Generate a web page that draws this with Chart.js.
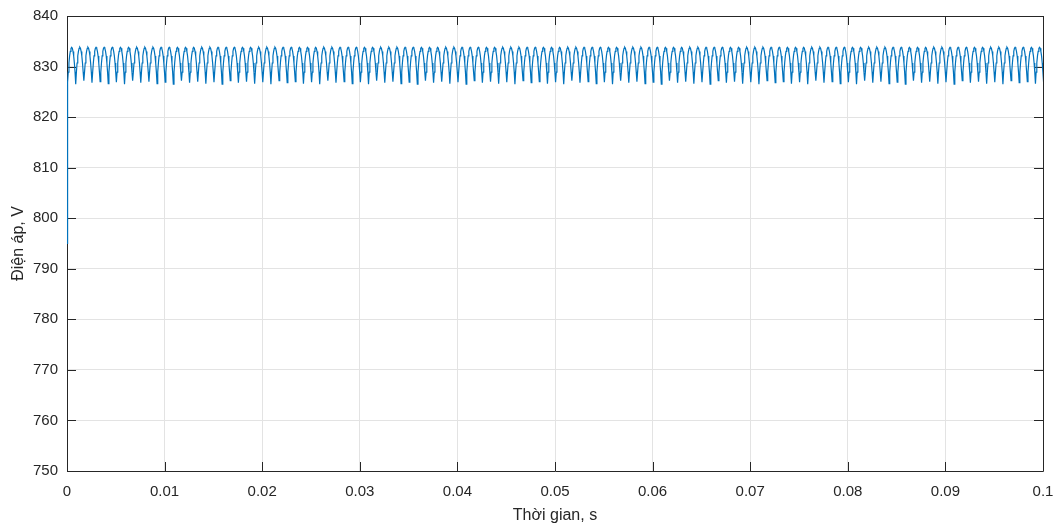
<!DOCTYPE html>
<html>
<head>
<meta charset="utf-8">
<title>Điện áp</title>
<script src="https://cdn.jsdelivr.net/npm/chart.js@4.4.0/dist/chart.umd.min.js"></script>
<style>
  body { margin: 0; background: #ffffff; }
  #wrap { width: 1059px; height: 529px; }
</style>
</head>
<body>
<div id="wrap"><canvas id="chart1" width="1059" height="529"></canvas></div>
<script>
// Tick labels
const xTicks = [0, 0.01, 0.02, 0.03, 0.04, 0.05, 0.06, 0.07, 0.08, 0.09, 0.1];
const yTicks = [750, 760, 770, 780, 790, 800, 810, 820, 830, 840];

// Start of the trace (vertical rise at t = 0)
const startTime = [0];
const startVolt = [795];

// One ripple period: 12 per 0.01 s
const rippleStart = 0.00006;
const ripplePeriod = 0.01 / 12;
const rippleCount = 121;
// voltage samples over one period (cusp first, then the arch)
const rippleShape = [null, 828.9, 830.7, 832.1, 833.0, 833.6, 833.8, 833.6, 833.0, 832.1, 830.7, 828.9];
// cusp depth changes a little from one period to the next
const troughVolt = [826.9, 826.5, 827.2, 826.8, 827.0, 826.6];

// build the point list
const puntos = [];
startTime.forEach((t, i) => puntos.push({ x: t, y: startVolt[i] }));
for (let k = 0; k < rippleCount; k++) {
  rippleShape.forEach((v, j) => {
    const t = rippleStart + (k + j / rippleShape.length) * ripplePeriod;
    puntos.push({ x: t, y: v === null ? troughVolt[k % troughVolt.length] : v });
  });
}

const textColor = '#262626';
const gridColor = '#e3e3e3';

// axes box and inward ticks, like the original plot (drawn under the trace)
const boxPlugin = {
  id: 'boxPlugin',
  beforeDatasetsDraw(chart) {
    const { ctx, chartArea: a, scales } = chart;
    const len = 9;
    ctx.save();
    ctx.strokeStyle = textColor;
    ctx.lineWidth = 1;
    ctx.beginPath();
    ctx.rect(Math.round(a.left) + 0.5, Math.round(a.top) + 0.5, Math.round(a.right - a.left), Math.round(a.bottom - a.top));
    xTicks.forEach(v => {
      const px = Math.round(scales.x.getPixelForValue(v)) + 0.5;
      ctx.moveTo(px, a.bottom); ctx.lineTo(px, a.bottom - len);
      ctx.moveTo(px, a.top); ctx.lineTo(px, a.top + len);
    });
    yTicks.forEach(v => {
      const py = Math.round(scales.y.getPixelForValue(v)) + 0.5;
      ctx.moveTo(a.left, py); ctx.lineTo(a.left + len, py);
      ctx.moveTo(a.right, py); ctx.lineTo(a.right - len, py);
    });
    ctx.stroke();
    ctx.restore();
  }
};

const ctx1 = document.getElementById('chart1').getContext('2d');
new Chart(ctx1, {
  type: 'line',
  data: {
    datasets: [{
      label: 'Điện áp',
      data: puntos,
      borderColor: '#0072BD',
      borderWidth: 1.2,
      pointRadius: 0,
      tension: 0,
      fill: false,
      clip: { left: 1, top: 0, right: 0, bottom: 0 }
    }]
  },
  options: {
    responsive: false,
    animation: false,
    layout: { padding: { left: 0, right: 16, top: 16, bottom: 0 } },
    plugins: {
      legend: { display: false },
      tooltip: { enabled: false }
    },
    font: { family: 'Liberation Sans, Arial, sans-serif' },
    scales: {
      x: {
        type: 'linear',
        min: 0,
        max: 0.1,
        afterBuildTicks: s => { s.ticks = xTicks.map(v => ({ value: v })); },
        afterFit: s => { s.height = 58; s.paddingLeft = 0; s.paddingRight = 0; },
        grid: { color: gridColor, drawTicks: false },
        border: { display: false },
        ticks: {
          color: textColor,
          padding: 12,
          maxRotation: 0,
          font: { family: 'Liberation Sans, Arial, sans-serif', size: 15 },
          callback: v => String(+v.toFixed(2))
        },
        title: {
          display: true,
          text: 'Thời gian, s',
          color: textColor,
          padding: { top: 0, bottom: 4 },
          font: { family: 'Liberation Sans, Arial, sans-serif', size: 16 }
        }
      },
      y: {
        min: 750,
        max: 840,
        afterBuildTicks: s => { s.ticks = yTicks.map(v => ({ value: v })); },
        afterFit: s => { s.width = 67; s.paddingTop = 0; s.paddingBottom = 0; },
        grid: { color: gridColor, drawTicks: false },
        border: { display: false },
        ticks: {
          color: textColor,
          padding: 9,
          font: { family: 'Liberation Sans, Arial, sans-serif', size: 15 }
        },
        title: {
          display: true,
          text: 'Điện áp, V',
          color: textColor,
          padding: { top: 9, bottom: 0 },
          font: { family: 'Liberation Sans, Arial, sans-serif', size: 16 }
        }
      }
    }
  },
  plugins: [boxPlugin]
});
</script>
</body>
</html>
